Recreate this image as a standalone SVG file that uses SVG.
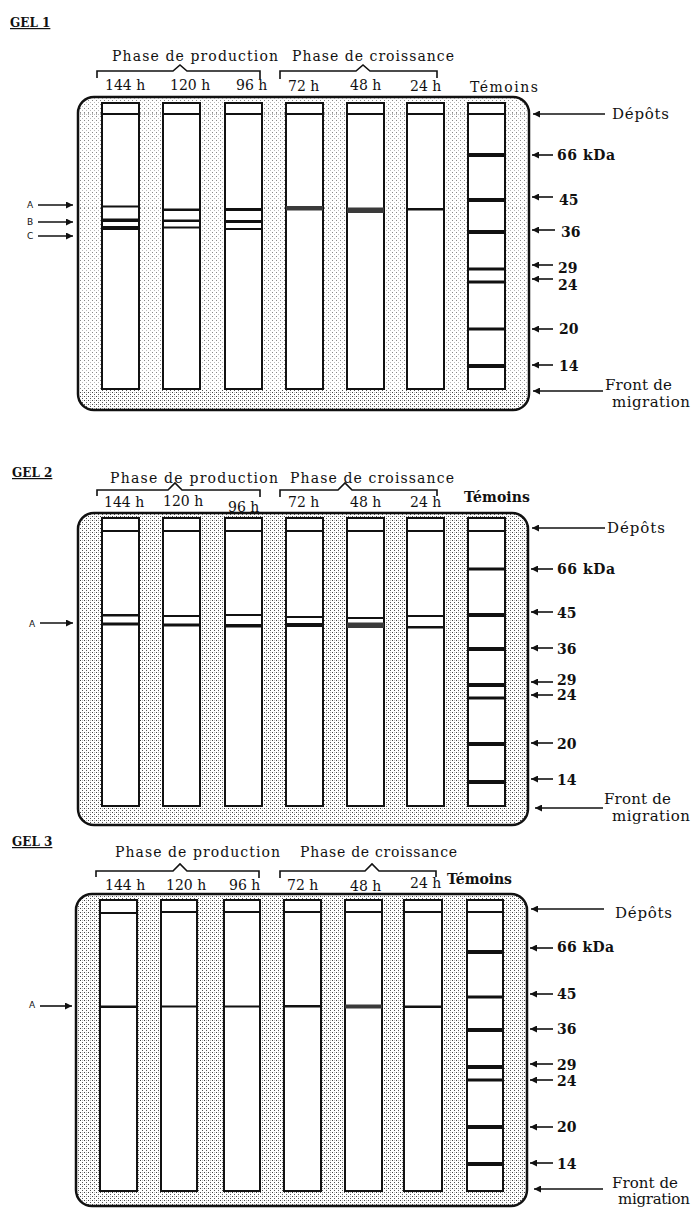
<svg xmlns="http://www.w3.org/2000/svg" width="693" height="1208" viewBox="0 0 693 1208">
<style>
text{font-family:"DejaVu Serif","Liberation Serif",serif;fill:#111}
.title{font-size:12px;font-weight:bold;text-decoration:underline}
.hdr{font-size:14px}
.lab{font-size:14px}
.mk{font-size:14px;font-weight:bold}
.side{font-size:15px}
.abc{font-size:9px;font-family:"DejaVu Sans","Liberation Sans",sans-serif}
.box{stroke:#111;stroke-width:2.5}
.lane{fill:#fff;stroke:#111;stroke-width:2}
.dl{stroke:#111;stroke-width:2}
.band{fill:#111}
.gb{fill:#3a3a3a}
.brace{fill:none;stroke:#111;stroke-width:1.6}
.arr{stroke:#111;stroke-width:1.6;fill:none;marker-end:url(#ah)}
.dot{stroke:#666;stroke-width:1;stroke-dasharray:1 3;fill:none}
</style>
<defs>
<pattern id="stipL" width="4" height="4" patternUnits="userSpaceOnUse">
<rect width="4" height="4" fill="#fff"/>
<rect x="0" y="0" width="1" height="1" fill="#888"/>
<rect x="2" y="2" width="1" height="1" fill="#bbb"/>
</pattern>
<pattern id="stipM" width="4" height="4" patternUnits="userSpaceOnUse">
<rect width="4" height="4" fill="#fff"/>
<rect x="0" y="0" width="1" height="1" fill="#444"/>
<rect x="2" y="2" width="1" height="1" fill="#555"/>
<rect x="2" y="0" width="1" height="1" fill="#bbb"/>
</pattern>
<marker id="ah" viewBox="0 0 10 10" refX="10" refY="5" markerWidth="9" markerHeight="7" markerUnits="userSpaceOnUse" orient="auto">
<path d="M0,0 L10,5 L0,10 z" fill="#111"/>
</marker>
</defs>
<rect width="693" height="1208" fill="#fff"/>

<!-- ================= GEL 1 ================= -->
<g id="gel1">
<text class="title" x="10" y="27">GEL 1</text>
<g id="gel1-header">
<text class="hdr" x="112" y="61" textLength="166">Phase de production</text>
<text class="hdr" x="292" y="61" textLength="162">Phase de croissance</text>
<path class="brace" d="M97,78 V71 H173 L180,65 L187,71 H260 V79"/>
<path class="brace" d="M280,79 V71 H356 L363,65 L370,71 H437 V78"/>
<text class="lab" x="105" y="90">144 h</text>
<text class="lab" x="170" y="90">120 h</text>
<text class="lab" x="236" y="90">96 h</text>
<text class="lab" x="288" y="91">72 h</text>
<text class="lab" x="350" y="90">48 h</text>
<text class="lab" x="410" y="91">24 h</text>
<text class="lab" x="470" y="92" textLength="68">Témoins</text>
</g>
<rect x="78" y="97" width="451" height="313" rx="16" fill="url(#stipL)"/>
<path d="M78,390 H529 V394 Q529,410 513,410 H94 Q78,410 78,394 Z" fill="url(#stipM)"/>
<line class="dot" x1="80" y1="114" x2="527" y2="114"/>
<line class="dot" x1="80" y1="208" x2="527" y2="208"/>
<rect class="box" x="78" y="97" width="451" height="313" rx="16" fill="none"/>
<g id="gel1-lane-144h"><rect class="lane" x="102" y="103" width="37" height="286"/><line class="dl" x1="102" y1="114" x2="139" y2="114"/>
<rect class="band" x="102" y="205.5" width="37" height="2"/><rect class="band" x="102" y="218.5" width="37" height="3.5"/><rect class="band" x="102" y="226" width="37" height="4"/></g>
<g id="gel1-lane-120h"><rect class="lane" x="163" y="103" width="37" height="286"/><line class="dl" x1="163" y1="114" x2="200" y2="114"/>
<rect class="band" x="163" y="208.5" width="37" height="2.5"/><rect class="band" x="163" y="219.5" width="37" height="2.5"/><rect class="band" x="163" y="226.5" width="37" height="2"/></g>
<g id="gel1-lane-96h"><rect class="lane" x="225" y="103" width="37" height="286"/><line class="dl" x1="225" y1="114" x2="262" y2="114"/>
<rect class="band" x="225" y="208" width="37" height="3"/><rect class="band" x="225" y="220" width="37" height="3"/><rect class="band" x="225" y="228" width="37" height="2"/></g>
<g id="gel1-lane-72h"><rect class="lane" x="286" y="103" width="37" height="286"/><line class="dl" x1="286" y1="114" x2="323" y2="114"/>
<rect class="gb" x="286" y="206" width="37" height="4.5"/></g>
<g id="gel1-lane-48h"><rect class="lane" x="347" y="103" width="37" height="286"/><line class="dl" x1="347" y1="114" x2="384" y2="114"/>
<rect class="gb" x="347" y="207.5" width="37" height="5.5"/></g>
<g id="gel1-lane-24h"><rect class="lane" x="407" y="103" width="37" height="286"/><line class="dl" x1="407" y1="114" x2="444" y2="114"/>
<rect class="band" x="407" y="208" width="37" height="2.5"/></g>
<g id="gel1-lane-temoins"><rect class="lane" x="468" y="103" width="37" height="286"/><line class="dl" x1="468" y1="114" x2="505" y2="114"/>
<rect class="band" x="468" y="153" width="37" height="4"/><rect class="band" x="468" y="198" width="37" height="4"/><rect class="band" x="468" y="230" width="37" height="4"/><rect class="band" x="468" y="267.5" width="37" height="3"/><rect class="band" x="468" y="280.5" width="37" height="3"/><rect class="band" x="468" y="327.5" width="37" height="3"/><rect class="band" x="468" y="364" width="37" height="4"/></g>
<g id="gel1-labels">
<text class="abc" x="27" y="208">A</text>
<text class="abc" x="27" y="225">B</text>
<text class="abc" x="27" y="239">C</text>
<text class="side" x="612" y="119" textLength="57">Dépôts</text>
<text class="mk" x="557" y="160" textLength="58">66 kDa</text>
<text class="mk" x="559" y="205">45</text>
<text class="mk" x="561" y="237">36</text>
<text class="mk" x="558" y="273">29</text>
<text class="mk" x="558" y="290">24</text>
<text class="mk" x="559" y="334">20</text>
<text class="mk" x="559" y="371">14</text>
<text class="side" x="605" y="390" textLength="67">Front de</text>
<text class="side" x="612" y="407" textLength="78">migration</text>
</g>
</g>

<!-- ================= GEL 2 ================= -->
<g id="gel2">
<text class="title" x="12" y="477">GEL 2</text>
<g id="gel2-header">
<text class="hdr" x="110" y="483" textLength="168">Phase de production</text>
<text class="hdr" x="290" y="483" textLength="164">Phase de croissance</text>
<path class="brace" d="M97,496 V490 H168 L175,483 L182,490 H260 V497"/>
<path class="brace" d="M280,497 V490 H338 L345,483 L352,490 H437 V496"/>
<text class="lab" x="104" y="507">144 h</text>
<text class="lab" x="163" y="506">120 h</text>
<text class="lab" x="228" y="512">96 h</text>
<text class="lab" x="288" y="507">72 h</text>
<text class="lab" x="350" y="507">48 h</text>
<text class="lab" x="410" y="507">24 h</text>
<text class="lab" x="464" y="502" textLength="66" font-weight="bold">Témoins</text>
</g>
<rect x="78" y="513" width="450" height="312" rx="16" fill="url(#stipM)"/>
<rect class="box" x="78" y="513" width="450" height="312" rx="16" fill="none"/>
<g id="gel2-lane-144h"><rect class="lane" x="102" y="518" width="37" height="288"/><line class="dl" x1="102" y1="531" x2="139" y2="531"/>
<rect class="band" x="102" y="614" width="37" height="2.5"/><rect class="band" x="102" y="622.5" width="37" height="3"/></g>
<g id="gel2-lane-120h"><rect class="lane" x="163" y="518" width="37" height="288"/><line class="dl" x1="163" y1="531" x2="200" y2="531"/>
<rect class="band" x="163" y="615" width="37" height="2"/><rect class="band" x="163" y="623.5" width="37" height="3"/></g>
<g id="gel2-lane-96h"><rect class="lane" x="225" y="518" width="37" height="288"/><line class="dl" x1="225" y1="531" x2="262" y2="531"/>
<rect class="band" x="225" y="614" width="37" height="2"/><rect class="band" x="225" y="624" width="37" height="3.5"/></g>
<g id="gel2-lane-72h"><rect class="lane" x="286" y="518" width="37" height="288"/><line class="dl" x1="286" y1="531" x2="323" y2="531"/>
<rect class="band" x="286" y="616" width="37" height="2"/><rect class="band" x="286" y="623" width="37" height="4"/></g>
<g id="gel2-lane-48h"><rect class="lane" x="347" y="518" width="37" height="288"/><line class="dl" x1="347" y1="531" x2="384" y2="531"/>
<rect class="band" x="347" y="617" width="37" height="2"/><rect class="gb" x="347" y="622.5" width="37" height="5.5"/></g>
<g id="gel2-lane-24h"><rect class="lane" x="407" y="518" width="37" height="288"/><line class="dl" x1="407" y1="531" x2="444" y2="531"/>
<rect class="band" x="407" y="615" width="37" height="2"/><rect class="band" x="407" y="626" width="37" height="2.5"/></g>
<g id="gel2-lane-temoins"><rect class="lane" x="468" y="518" width="37" height="288"/><line class="dl" x1="468" y1="531" x2="505" y2="531"/>
<rect class="band" x="468" y="567.5" width="37" height="3"/><rect class="band" x="468" y="613" width="37" height="4"/><rect class="band" x="468" y="647" width="37" height="4"/><rect class="band" x="468" y="683" width="37" height="4"/><rect class="band" x="468" y="696.5" width="37" height="3"/><rect class="band" x="468" y="742" width="37" height="4"/><rect class="band" x="468" y="780" width="37" height="4"/></g>
<g id="gel2-labels">
<text class="abc" x="29" y="627">A</text>
<text class="side" x="607" y="533" textLength="58">Dépôts</text>
<text class="mk" x="557" y="574" textLength="58">66 kDa</text>
<text class="mk" x="557" y="618">45</text>
<text class="mk" x="557" y="654">36</text>
<text class="mk" x="557" y="685">29</text>
<text class="mk" x="557" y="700">24</text>
<text class="mk" x="557" y="749">20</text>
<text class="mk" x="557" y="785">14</text>
<text class="side" x="604" y="804" textLength="67">Front de</text>
<text class="side" x="612" y="821" textLength="78">migration</text>
</g>
</g>

<!-- ================= GEL 3 ================= -->
<g id="gel3">
<text class="title" x="12" y="846">GEL 3</text>
<g id="gel3-header">
<text class="hdr" x="115" y="857" textLength="165">Phase de production</text>
<text class="hdr" x="300" y="857" textLength="157">Phase de croissance</text>
<path class="brace" d="M96,877 V871 H173 L180,864 L187,871 H259 V878"/>
<path class="brace" d="M280,878 V871 H365 L372,864 L379,871 H436 V877"/>
<text class="lab" x="105" y="890">144 h</text>
<text class="lab" x="166" y="890">120 h</text>
<text class="lab" x="229" y="890">96 h</text>
<text class="lab" x="287" y="890">72 h</text>
<text class="lab" x="350" y="891">48 h</text>
<text class="lab" x="410" y="888">24 h</text>
<text class="lab" x="447" y="884" textLength="65" font-weight="bold">Témoins</text>
</g>
<rect x="76" y="894" width="451" height="312" rx="16" fill="url(#stipM)"/>
<rect class="box" x="76" y="894" width="451" height="312" rx="16" fill="none"/>
<g id="gel3-lane-144h"><rect class="lane" x="100" y="900" width="37" height="291"/><line class="dl" x1="100" y1="913" x2="137" y2="913"/>
<rect class="band" x="100" y="1005.5" width="37" height="2.5"/></g>
<g id="gel3-lane-120h"><rect class="lane" x="161" y="900" width="36" height="291"/><line class="dl" x1="161" y1="912" x2="197" y2="912"/>
<rect class="band" x="161" y="1005.5" width="36" height="2"/></g>
<g id="gel3-lane-96h"><rect class="lane" x="224" y="900" width="36" height="291"/><line class="dl" x1="224" y1="912" x2="260" y2="912"/>
<rect class="band" x="224" y="1005.5" width="36" height="2"/></g>
<g id="gel3-lane-72h"><rect class="lane" x="284" y="900" width="37" height="291"/><line class="dl" x1="284" y1="912" x2="321" y2="912"/>
<rect class="band" x="284" y="1005" width="37" height="2.5"/></g>
<g id="gel3-lane-48h"><rect class="lane" x="345" y="900" width="37" height="291"/><line class="dl" x1="345" y1="912" x2="382" y2="912"/>
<rect class="gb" x="345" y="1004.5" width="37" height="4"/></g>
<g id="gel3-lane-24h"><rect class="lane" x="404" y="900" width="38" height="291"/><line class="dl" x1="404" y1="912" x2="442" y2="912"/>
<rect class="band" x="404" y="1005.5" width="38" height="2.5"/></g>
<g id="gel3-lane-temoins"><rect class="lane" x="467" y="900" width="36" height="291"/><line class="dl" x1="467" y1="912" x2="503" y2="912"/>
<rect class="band" x="467" y="950" width="36" height="4"/><rect class="band" x="467" y="995.5" width="36" height="3"/><rect class="band" x="467" y="1028" width="36" height="4"/><rect class="band" x="467" y="1065" width="36" height="4"/><rect class="band" x="467" y="1078.5" width="36" height="3"/><rect class="band" x="467" y="1125" width="36" height="4"/><rect class="band" x="467" y="1162" width="36" height="4"/></g>
<g id="gel3-labels">
<text class="abc" x="29" y="1008">A</text>
<text class="side" x="615" y="918" textLength="57">Dépôts</text>
<text class="mk" x="557" y="952" textLength="57">66 kDa</text>
<text class="mk" x="557" y="999">45</text>
<text class="mk" x="557" y="1034">36</text>
<text class="mk" x="557" y="1070">29</text>
<text class="mk" x="557" y="1086">24</text>
<text class="mk" x="557" y="1132">20</text>
<text class="mk" x="557" y="1169">14</text>
<text class="side" x="612" y="1188" textLength="66" font-size="14">Front de</text>
<text class="side" x="618" y="1204" textLength="72" font-size="13">migration</text>
</g>
</g>

<!-- ================= connectors ================= -->
<g id="connectors">
<line class="arr" x1="38" y1="205" x2="73" y2="205"/>
<line class="arr" x1="38" y1="222" x2="73" y2="222"/>
<line class="arr" x1="38" y1="236" x2="73" y2="236"/>
<line class="arr" x1="605" y1="114" x2="533" y2="114"/>
<line class="arr" x1="553" y1="155" x2="532" y2="155"/>
<line class="arr" x1="553" y1="197" x2="532" y2="197"/>
<line class="arr" x1="555" y1="230" x2="532" y2="230"/>
<line class="arr" x1="553" y1="265" x2="532" y2="265"/>
<line class="arr" x1="553" y1="279" x2="532" y2="279"/>
<line class="arr" x1="553" y1="329" x2="532" y2="329"/>
<line class="arr" x1="553" y1="365" x2="532" y2="365"/>
<line class="arr" x1="603" y1="391" x2="533" y2="391"/>

<line class="arr" x1="40" y1="623" x2="73" y2="623"/>
<line class="arr" x1="605" y1="528" x2="532" y2="528"/>
<line class="arr" x1="553" y1="569" x2="531" y2="569"/>
<line class="arr" x1="553" y1="612" x2="531" y2="612"/>
<line class="arr" x1="553" y1="648" x2="531" y2="648"/>
<line class="arr" x1="553" y1="682" x2="531" y2="682"/>
<line class="arr" x1="553" y1="695" x2="531" y2="695"/>
<line class="arr" x1="553" y1="743" x2="531" y2="743"/>
<line class="arr" x1="553" y1="779" x2="531" y2="779"/>
<line class="arr" x1="603" y1="808" x2="535" y2="808"/>

<line class="arr" x1="40" y1="1006" x2="72" y2="1006"/>
<line class="arr" x1="604" y1="909" x2="531" y2="909"/>
<line class="arr" x1="553" y1="948" x2="530" y2="948"/>
<line class="arr" x1="553" y1="994" x2="530" y2="994"/>
<line class="arr" x1="553" y1="1029" x2="530" y2="1029"/>
<line class="arr" x1="553" y1="1064" x2="530" y2="1064"/>
<line class="arr" x1="553" y1="1080" x2="530" y2="1080"/>
<line class="arr" x1="553" y1="1127" x2="530" y2="1127"/>
<line class="arr" x1="553" y1="1163" x2="530" y2="1163"/>
<line class="arr" x1="603" y1="1189" x2="534" y2="1189"/>
</g>
</svg>
